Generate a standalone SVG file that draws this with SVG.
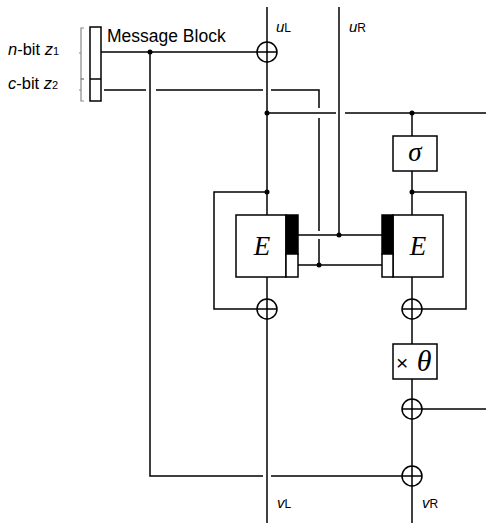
<svg xmlns="http://www.w3.org/2000/svg" width="486" height="523" viewBox="0 0 486 523">
<style>
.ln{stroke:#000;stroke-width:1.5;fill:none}
.bx{stroke:#000;stroke-width:1.5;fill:#fff}
.dot{fill:#000}
.sans{font-family:"Liberation Sans",Arial,sans-serif;fill:#000}
.ser{font-family:"Liberation Serif","Times New Roman",serif;font-style:italic;fill:#000}
.br{stroke:#888;stroke-width:1.2;fill:none}
</style>
<defs>
<g id="xor"><circle cx="0" cy="0" r="10" class="bx"/><path d="M-10 0H10M0 -10V10" class="ln"/></g>
</defs>
<rect width="486" height="523" fill="#fff"/>
<g id="connectors">
<path class="ln" d="M267 7V523"/>
<path class="ln" d="M339 7V235"/>
<path class="ln" d="M412 113V523"/>
<path class="ln" d="M101 52H257"/>
<path class="ln" d="M150 52V476H263M271 476H402"/>
<path class="ln" d="M104 90H146M156 90H263M271 90H319V108M319 118V231M319 239V265"/>
<path class="ln" d="M267 113H336M345 113H486"/>
<path class="ln" d="M267 192H214V309H257"/>
<path class="ln" d="M412 192H466V309H422"/>
<path class="ln" d="M298 235H382"/>
<path class="ln" d="M298 265H382"/>
<path class="ln" d="M422 409H486"/>
<path class="br" d="M84 28H81V79H84M81 53H79"/>
<path class="br" d="M84 79H81V101H84M81 90H79"/>
<circle class="dot" cx="150" cy="52" r="2.5"/>
<circle class="dot" cx="267" cy="113" r="2.5"/>
<circle class="dot" cx="412" cy="113" r="2.5"/>
<circle class="dot" cx="267" cy="192" r="2.5"/>
<circle class="dot" cx="412" cy="192" r="2.5"/>
<circle class="dot" cx="339" cy="235" r="2.5"/>
<circle class="dot" cx="319" cy="265" r="2.5"/>
</g>
<g id="msgblock">
<rect class="bx" x="90" y="27" width="11" height="74"/>
<path class="ln" d="M90 79H101"/>
<text class="sans" x="107" y="42" font-size="17.5">Message Block</text>
</g>
<g id="labels">
<text class="sans" x="8" y="55" font-size="16.5"><tspan font-style="italic">n</tspan>-bit <tspan font-style="italic">z</tspan><tspan font-size="11">1</tspan></text>
<text class="sans" x="8" y="89" font-size="16.5"><tspan font-style="italic">c</tspan>-bit <tspan font-style="italic">z</tspan><tspan font-size="11">2</tspan></text>
<text class="sans" x="276" y="32" font-size="15"><tspan font-style="italic">u</tspan><tspan font-size="12">L</tspan></text>
<text class="sans" x="349" y="32" font-size="15"><tspan font-style="italic">u</tspan><tspan font-size="12">R</tspan></text>
<text class="sans" x="277" y="508" font-size="15"><tspan font-style="italic">v</tspan><tspan font-size="12">L</tspan></text>
<text class="sans" x="422" y="508" font-size="15"><tspan font-style="italic">v</tspan><tspan font-size="12">R</tspan></text>
</g>
<g id="xor-top"><use href="#xor" x="267" y="52"/></g>
<g id="sigma">
<rect class="bx" x="393" y="136" width="44" height="35"/>
<text class="ser" x="415" y="161" font-size="27" text-anchor="middle">σ</text>
</g>
<g id="E-left">
<rect class="bx" x="236" y="215" width="50" height="62"/>
<rect x="286" y="215" width="12" height="39" fill="#000" stroke="#000" stroke-width="1.5"/>
<rect class="bx" x="286" y="254" width="12" height="23"/>
<text class="ser" x="262" y="255" font-size="27" text-anchor="middle">E</text>
</g>
<g id="E-right">
<rect class="bx" x="393" y="215" width="50" height="62"/>
<rect x="382" y="215" width="11" height="39" fill="#000" stroke="#000" stroke-width="1.5"/>
<rect class="bx" x="382" y="254" width="11" height="23"/>
<text class="ser" x="418" y="255" font-size="27" text-anchor="middle">E</text>
</g>
<g id="xor-left"><use href="#xor" x="267" y="309"/></g>
<g id="xor-right"><use href="#xor" x="412" y="309"/></g>
<g id="theta">
<rect class="bx" x="393" y="344" width="44" height="35"/>
<text class="sans" x="396" y="370" font-size="21">×</text>
<text class="ser" x="424" y="371" font-size="30" text-anchor="middle">θ</text>
</g>
<g id="xor-mid"><use href="#xor" x="412" y="409"/></g>
<g id="xor-bottom"><use href="#xor" x="412" y="476"/></g>
</svg>
